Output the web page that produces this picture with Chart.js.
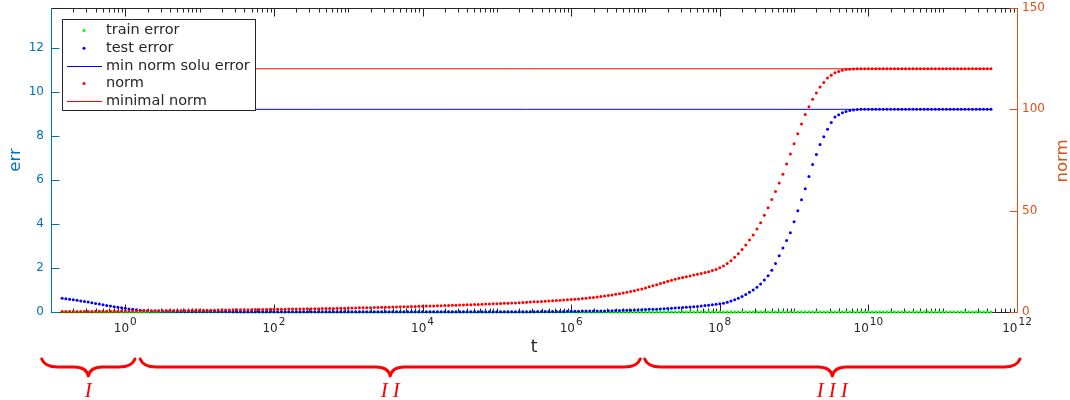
<!DOCTYPE html>
<html>
<head>
<meta charset="utf-8">
<script src="https://cdn.jsdelivr.net/npm/chart.js@4.4.1/dist/chart.umd.min.js"></script>
<style>
    body { margin: 0; background: #fff; }
</style>
</head>
<body>
<canvas id="errChart" width="1070" height="400"></canvas>
<script>
// log10(t) of each sample, one decade per row
const logT = [
    -0.85, -0.80, -0.75, -0.70, -0.65, -0.60, -0.55, -0.50, -0.45, -0.40, -0.35, -0.30, -0.25, -0.20, -0.15, -0.10, -0.05, 0.00, 0.05, 0.10,
    0.15, 0.20, 0.25, 0.30, 0.35, 0.40, 0.45, 0.50, 0.55, 0.60, 0.65, 0.70, 0.75, 0.80, 0.85, 0.90, 0.95, 1.00, 1.05, 1.10,
    1.15, 1.20, 1.25, 1.30, 1.35, 1.40, 1.45, 1.50, 1.55, 1.60, 1.65, 1.70, 1.75, 1.80, 1.85, 1.90, 1.95, 2.00, 2.05, 2.10,
    2.15, 2.20, 2.25, 2.30, 2.35, 2.40, 2.45, 2.50, 2.55, 2.60, 2.65, 2.70, 2.75, 2.80, 2.85, 2.90, 2.95, 3.00, 3.05, 3.10,
    3.15, 3.20, 3.25, 3.30, 3.35, 3.40, 3.45, 3.50, 3.55, 3.60, 3.65, 3.70, 3.75, 3.80, 3.85, 3.90, 3.95, 4.00, 4.05, 4.10,
    4.15, 4.20, 4.25, 4.30, 4.35, 4.40, 4.45, 4.50, 4.55, 4.60, 4.65, 4.70, 4.75, 4.80, 4.85, 4.90, 4.95, 5.00, 5.05, 5.10,
    5.15, 5.20, 5.25, 5.30, 5.35, 5.40, 5.45, 5.50, 5.55, 5.60, 5.65, 5.70, 5.75, 5.80, 5.85, 5.90, 5.95, 6.00, 6.05, 6.10,
    6.15, 6.20, 6.25, 6.30, 6.35, 6.40, 6.45, 6.50, 6.55, 6.60, 6.65, 6.70, 6.75, 6.80, 6.85, 6.90, 6.95, 7.00, 7.05, 7.10,
    7.15, 7.20, 7.25, 7.30, 7.35, 7.40, 7.45, 7.50, 7.55, 7.60, 7.65, 7.70, 7.75, 7.80, 7.85, 7.90, 7.95, 8.00, 8.05, 8.10,
    8.15, 8.20, 8.25, 8.30, 8.35, 8.40, 8.45, 8.50, 8.55, 8.60, 8.65, 8.70, 8.75, 8.80, 8.85, 8.90, 8.95, 9.00, 9.05, 9.10,
    9.15, 9.20, 9.25, 9.30, 9.35, 9.40, 9.45, 9.50, 9.55, 9.60, 9.65, 9.70, 9.75, 9.80, 9.85, 9.90, 9.95, 10.00, 10.05, 10.10,
    10.15, 10.20, 10.25, 10.30, 10.35, 10.40, 10.45, 10.50, 10.55, 10.60, 10.65, 10.70, 10.75, 10.80, 10.85, 10.90, 10.95, 11.00, 11.05, 11.10,
    11.15, 11.20, 11.25, 11.30, 11.35, 11.40, 11.45, 11.50, 11.55, 11.60, 11.65
];
const trainError = [
    0, 0, 0, 0, 0, 0, 0, 0, 0, 0, 0, 0, 0, 0, 0, 0, 0, 0, 0, 0,
    0, 0, 0, 0, 0, 0, 0, 0, 0, 0, 0, 0, 0, 0, 0, 0, 0, 0, 0, 0,
    0, 0, 0, 0, 0, 0, 0, 0, 0, 0, 0, 0, 0, 0, 0, 0, 0, 0, 0, 0,
    0, 0, 0, 0, 0, 0, 0, 0, 0, 0, 0, 0, 0, 0, 0, 0, 0, 0, 0, 0,
    0, 0, 0, 0, 0, 0, 0, 0, 0, 0, 0, 0, 0, 0, 0, 0, 0, 0, 0, 0,
    0, 0, 0, 0, 0, 0, 0, 0, 0, 0, 0, 0, 0, 0, 0, 0, 0, 0, 0, 0,
    0, 0, 0, 0, 0, 0, 0, 0, 0, 0, 0, 0, 0, 0, 0, 0, 0, 0, 0, 0,
    0, 0, 0, 0, 0, 0, 0, 0, 0, 0, 0, 0, 0, 0, 0, 0, 0, 0, 0, 0,
    0, 0, 0, 0, 0, 0, 0, 0, 0, 0, 0, 0, 0, 0, 0, 0, 0, 0, 0, 0,
    0, 0, 0, 0, 0, 0, 0, 0, 0, 0, 0, 0, 0, 0, 0, 0, 0, 0, 0, 0,
    0, 0, 0, 0, 0, 0, 0, 0, 0, 0, 0, 0, 0, 0, 0, 0, 0, 0, 0, 0,
    0, 0, 0, 0, 0, 0, 0, 0, 0, 0, 0, 0, 0, 0, 0, 0, 0, 0, 0, 0,
    0, 0, 0, 0, 0, 0, 0, 0, 0, 0, 0
];
const testError = [
    0.62, 0.60, 0.58, 0.555, 0.53, 0.505, 0.48, 0.45, 0.42, 0.39, 0.36, 0.33, 0.30, 0.27, 0.24, 0.215, 0.19, 0.165, 0.14, 0.12,
    0.10, 0.085, 0.07, 0.06, 0.05, 0.045, 0.04, 0.035, 0.03, 0.03, 0.03, 0.025, 0.02, 0.02, 0.02, 0.02, 0.02, 0.02, 0.02, 0.02,
    0.02, 0.02, 0.02, 0.02, 0.02, 0.02, 0.01, 0.01, 0.01, 0.01, 0.01, 0.01, 0.01, 0.01, 0.01, 0.01, 0.01, 0.01, 0.01, 0.01,
    0.01, 0.01, 0.01, 0.01, 0.01, 0.01, 0.01, 0.01, 0.01, 0.01, 0.01, 0.01, 0.01, 0.01, 0.01, 0.01, 0.01, 0.01, 0.01, 0.01,
    0.01, 0.01, 0.01, 0.01, 0.01, 0.01, 0.01, 0.01, 0.01, 0.01, 0.01, 0.01, 0.01, 0.01, 0.01, 0.01, 0.01, 0.01, 0.01, 0.01,
    0.01, 0.01, 0.01, 0.01, 0.01, 0.01, 0.01, 0.01, 0.01, 0.01, 0.01, 0.01, 0.01, 0.01, 0.01, 0.01, 0.01, 0.01, 0.01, 0.01,
    0.01, 0.01, 0.01, 0.01, 0.01, 0.01, 0.01, 0.015, 0.02, 0.02, 0.02, 0.02, 0.02, 0.02, 0.02, 0.025, 0.03, 0.03, 0.03, 0.035,
    0.04, 0.04, 0.04, 0.045, 0.05, 0.05, 0.05, 0.055, 0.06, 0.065, 0.07, 0.075, 0.08, 0.085, 0.09, 0.095, 0.10, 0.11, 0.12, 0.125,
    0.13, 0.14, 0.15, 0.16, 0.17, 0.18, 0.19, 0.20, 0.21, 0.225, 0.24, 0.255, 0.27, 0.29, 0.31, 0.33, 0.35, 0.37, 0.40, 0.44,
    0.50, 0.56, 0.62, 0.70, 0.80, 0.90, 1.00, 1.12, 1.27, 1.45, 1.65, 1.9, 2.2, 2.55, 2.9, 3.25, 3.6, 4.1, 4.6, 5.1,
    5.6, 6.15, 6.7, 7.15, 7.6, 7.95, 8.3, 8.6, 8.85, 8.95, 9.05, 9.1, 9.15, 9.17, 9.19, 9.2, 9.2, 9.2, 9.2, 9.2,
    9.2, 9.2, 9.2, 9.2, 9.2, 9.2, 9.2, 9.2, 9.2, 9.2, 9.2, 9.2, 9.2, 9.2, 9.2, 9.2, 9.2, 9.2, 9.2, 9.2,
    9.2, 9.2, 9.2, 9.2, 9.2, 9.2, 9.2, 9.2, 9.2, 9.2, 9.2
];
const normValues = [
    0.2, 0.2, 0.2, 0.22, 0.25, 0.27, 0.3, 0.3, 0.3, 0.32, 0.35, 0.37, 0.4, 0.4, 0.4, 0.42, 0.45, 0.47, 0.5, 0.52,
    0.55, 0.57, 0.6, 0.6, 0.6, 0.62, 0.65, 0.67, 0.7, 0.7, 0.7, 0.72, 0.75, 0.77, 0.8, 0.82, 0.85, 0.87, 0.9, 0.9,
    0.9, 0.92, 0.95, 0.97, 1.0, 1.02, 1.05, 1.07, 1.1, 1.12, 1.15, 1.17, 1.2, 1.22, 1.25, 1.27, 1.3, 1.32, 1.35, 1.37,
    1.4, 1.42, 1.45, 1.47, 1.5, 1.52, 1.55, 1.57, 1.6, 1.65, 1.7, 1.72, 1.75, 1.77, 1.8, 1.85, 1.9, 1.92, 1.95, 2.0,
    2.05, 2.07, 2.1, 2.15, 2.2, 2.25, 2.3, 2.35, 2.4, 2.45, 2.5, 2.55, 2.6, 2.65, 2.7, 2.75, 2.8, 2.85, 2.9, 2.95,
    3.0, 3.05, 3.1, 3.15, 3.2, 3.27, 3.35, 3.42, 3.5, 3.55, 3.6, 3.67, 3.75, 3.82, 3.9, 3.97, 4.05, 4.12, 4.2, 4.27,
    4.35, 4.42, 4.5, 4.6, 4.7, 4.8, 4.9, 5.0, 5.1, 5.2, 5.3, 5.4, 5.5, 5.62, 5.75, 5.87, 6.0, 6.15, 6.3, 6.45,
    6.6, 6.8, 7.0, 7.2, 7.4, 7.65, 7.9, 8.15, 8.4, 8.7, 9.0, 9.35, 9.7, 10.1, 10.5, 10.95, 11.4, 11.9, 12.4, 12.95,
    13.5, 14.05, 14.6, 15.15, 15.7, 16.15, 16.6, 17.0, 17.4, 17.8, 18.2, 18.6, 19.0, 19.45, 19.9, 20.45, 21.0, 21.8, 22.7, 23.9,
    25.3, 27.0, 28.8, 30.8, 33, 35.5, 38, 41, 44, 47.7, 51.5, 55.5, 59.5, 63.7, 68, 73, 78, 83, 88, 92.8,
    97.5, 101.3, 105, 108, 111, 113.3, 115.5, 116.8, 118, 118.7, 119.3, 119.6, 119.8, 119.9, 120, 120, 120, 120, 120, 120,
    120, 120, 120, 120, 120, 120, 120, 120, 120, 120, 120, 120, 120, 120, 120, 120, 120, 120, 120, 120,
    120, 120, 120, 120, 120, 120, 120, 120, 120, 120, 120
];
const minNormSoluError = 9.2;
const minimalNorm = 120;

const errTicks = [0, 2, 4, 6, 8, 10, 12];
const normTicks = [0, 50, 100, 150];
const tLabelPowers = [0, 2, 4, 6, 8, 10, 12];
// phase braces under the axis: label, from log10(t), to log10(t)
const phaseNames = ['I', 'II', 'III'];
const phaseFrom = [-1.125, 0.2, 6.99];
const phaseTo = [0.13, 6.93, 12.04];

const axisGray = '#262626';
const errBlue = '#0072BD';
const normOrange = '#D95319';

Chart.defaults.font.family = '"DejaVu Sans", sans-serif';

const points = (ys) => logT.map((e, i) => ({ x: Math.pow(10, e), y: ys[i] }));
const flat = (v) => [
    { x: Math.pow(10, logT[0]), y: v },
    { x: Math.pow(10, logT[logT.length - 1]), y: v }
];

// box, axis lines and inward ticks like a MATLAB axes
const framePlugin = {
    id: 'frame',
    beforeDatasetsDraw(chart) {
        const { ctx, chartArea: a, scales } = chart;
        const L = Math.floor(a.left) + 0.5, R = Math.floor(a.right) + 0.5;
        const T = Math.floor(a.top) + 0.5, B = Math.floor(a.bottom) + 0.5;
        ctx.save();
        ctx.lineWidth = 1;

        ctx.strokeStyle = axisGray;
        ctx.beginPath();
        ctx.moveTo(L, T); ctx.lineTo(R, T);
        ctx.moveTo(L, B); ctx.lineTo(R, B);
        for (let k = -1; k <= 12; k++) {
            for (let m = 1; m <= 9; m++) {
                const v = m * Math.pow(10, k);
                if (v > 1e12 || v < 0.1) continue;
                const px = Math.round(scales.x.getPixelForValue(v)) + 0.5;
                const len = (m === 1 && k % 2 === 0) ? 8 : 4;
                ctx.moveTo(px, B); ctx.lineTo(px, B - len);
                ctx.moveTo(px, T); ctx.lineTo(px, T + len);
            }
        }
        ctx.stroke();

        ctx.strokeStyle = errBlue;
        ctx.beginPath();
        ctx.moveTo(L, T - 0.5); ctx.lineTo(L, B + 0.5);
        errTicks.forEach(v => {
            const py = Math.round(scales.y.getPixelForValue(v)) + 0.5;
            ctx.moveTo(L, py); ctx.lineTo(L + 8, py);
        });
        ctx.stroke();

        ctx.strokeStyle = normOrange;
        ctx.beginPath();
        ctx.moveTo(R, T - 0.5); ctx.lineTo(R, B + 0.5);
        normTicks.forEach(v => {
            const py = Math.round(scales.y2.getPixelForValue(v)) + 0.5;
            ctx.moveTo(R, py); ctx.lineTo(R - 8, py);
        });
        ctx.stroke();
        ctx.restore();
    },
    afterDraw(chart) {
        const { ctx, chartArea: a, scales } = chart;
        ctx.save();

        // 10^k tick labels
        ctx.fillStyle = axisGray;
        ctx.textBaseline = 'alphabetic';
        ctx.textAlign = 'left';
        tLabelPowers.forEach(p => {
            const cx = scales.x.getPixelForValue(Math.pow(10, p));
            ctx.font = '12px "DejaVu Sans"';
            const wb = ctx.measureText('10').width;
            ctx.font = '10.5px "DejaVu Sans"';
            const we = ctx.measureText(String(p)).width;
            const x0 = cx - (wb + we + 1) / 2;
            ctx.font = '12px "DejaVu Sans"';
            ctx.fillText('10', x0, 332);
            ctx.font = '10.5px "DejaVu Sans"';
            ctx.fillText(String(p), x0 + wb + 1, 325);
        });

        // right axis title, read bottom to top
        ctx.fillStyle = normOrange;
        ctx.font = '16.5px "DejaVu Sans"';
        ctx.textAlign = 'center';
        ctx.textBaseline = 'middle';
        ctx.translate(1063, 161);
        ctx.rotate(-Math.PI / 2);
        ctx.fillText('norm', 0, 0);
        ctx.setTransform(1, 0, 0, 1, 0, 0);

        // legend
        const lx = 62.5, ly = 19.5, lw = 193, lh = 91;
        ctx.fillStyle = '#fff';
        ctx.fillRect(lx, ly, lw, lh);
        ctx.strokeStyle = axisGray;
        ctx.lineWidth = 1;
        ctx.strokeRect(lx, ly, lw, lh);
        ctx.font = '14.5px "DejaVu Sans"';
        ctx.textAlign = 'left';
        chart.data.datasets.forEach((ds, i) => {
            const ry = 30.5 + i * 17.7;
            if (ds.showLine) {
                ctx.strokeStyle = ds.borderColor;
                ctx.beginPath();
                ctx.moveTo(67, Math.round(ry) + 0.5);
                ctx.lineTo(102, Math.round(ry) + 0.5);
                ctx.stroke();
            } else {
                ctx.fillStyle = ds.backgroundColor;
                ctx.beginPath();
                ctx.arc(84, ry, 1.5, 0, Math.PI * 2);
                ctx.fill();
            }
            ctx.fillStyle = axisGray;
            ctx.fillText(ds.label, 106, ry);
        });

        // phase braces
        ctx.strokeStyle = '#FF0000';
        ctx.fillStyle = '#FF0000';
        ctx.lineWidth = 3;
        ctx.lineCap = 'round';
        ctx.lineJoin = 'round';
        const yt = 359, yb = 367, yp = 376;
        phaseNames.forEach((name, i) => {
            const x0 = scales.x.getPixelForValue(Math.pow(10, phaseFrom[i]));
            const x1 = scales.x.getPixelForValue(Math.pow(10, phaseTo[i]));
            const xm = (x0 + x1) / 2;
            ctx.beginPath();
            ctx.moveTo(x0, yt);
            ctx.quadraticCurveTo(x0 + 3, yb, x0 + 16, yb);
            ctx.lineTo(xm - 14, yb);
            ctx.quadraticCurveTo(xm - 2, yb, xm, yp);
            ctx.quadraticCurveTo(xm + 2, yb, xm + 14, yb);
            ctx.lineTo(x1 - 16, yb);
            ctx.quadraticCurveTo(x1 - 3, yb, x1, yt);
            ctx.stroke();

            ctx.font = 'italic 21px "Liberation Serif"';
            ctx.letterSpacing = '5px';
            ctx.textAlign = 'center';
            ctx.textBaseline = 'middle';
            ctx.fillText(name, xm + 2.5, 391);
            ctx.letterSpacing = '0px';
        });
        ctx.restore();
    }
};

const dotStyle = (color) => ({
    backgroundColor: color,
    borderColor: color,
    pointRadius: 1.5,
    pointBorderWidth: 0,
    pointHoverRadius: 1.5,
    showLine: false,
    clip: false
});

const noEdgePadding = (scale) => {
    scale.paddingTop = 0;
    scale.paddingBottom = 0;
    scale.paddingLeft = 0;
    scale.paddingRight = 0;
};

const ctx = document.getElementById('errChart').getContext('2d');
const errChart = new Chart(ctx, {
    type: 'scatter',
    data: {
        datasets: [
            Object.assign({ label: 'train error', data: points(trainError), yAxisID: 'y', order: 5 }, dotStyle('#00FF00')),
            Object.assign({ label: 'test error', data: points(testError), yAxisID: 'y', order: 4 }, dotStyle('#0000FF')),
            {
                label: 'min norm solu error', data: flat(minNormSoluError), yAxisID: 'y', order: 3,
                showLine: true, borderColor: '#0000FF', backgroundColor: '#0000FF',
                borderWidth: 1, pointRadius: 0
            },
            Object.assign({ label: 'norm', data: points(normValues), yAxisID: 'y2', order: 2 }, dotStyle('#FF0000')),
            {
                label: 'minimal norm', data: flat(minimalNorm), yAxisID: 'y2', order: 1,
                showLine: true, borderColor: '#FF0000', backgroundColor: '#FF0000',
                borderWidth: 1, pointRadius: 0
            }
        ]
    },
    options: {
        responsive: false,
        animation: false,
        devicePixelRatio: 1,
        layout: { padding: { top: 8, left: 0, right: 0, bottom: 0 } },
        plugins: {
            legend: { display: false },
            tooltip: { enabled: false }
        },
        scales: {
            x: {
                type: 'logarithmic',
                min: 0.1,
                max: 1e12,
                grid: { display: false, drawTicks: false },
                border: { display: false },
                ticks: { display: false },
                title: {
                    display: true,
                    text: 't',
                    color: axisGray,
                    font: { size: 17 },
                    padding: { top: 0, bottom: 42 }
                },
                afterFit(scale) { scale.height = 88; noEdgePadding(scale); }
            },
            y: {
                type: 'linear',
                position: 'left',
                min: 0,
                max: 13.8,
                afterBuildTicks(scale) { scale.ticks = errTicks.map(v => ({ value: v })); },
                grid: { display: false, drawTicks: false },
                border: { display: false },
                ticks: { color: errBlue, font: { size: 12 }, padding: 7 },
                title: {
                    display: true,
                    text: 'err',
                    color: errBlue,
                    font: { size: 16.5 },
                    padding: { top: 6, bottom: 0 }
                },
                afterFit(scale) { scale.width = 51; noEdgePadding(scale); }
            },
            y2: {
                type: 'linear',
                position: 'right',
                min: 0,
                max: 150,
                afterBuildTicks(scale) { scale.ticks = normTicks.map(v => ({ value: v })); },
                grid: { display: false, drawTicks: false },
                border: { display: false },
                ticks: { color: normOrange, font: { size: 12 }, padding: 5 },
                afterFit(scale) { scale.width = 53; noEdgePadding(scale); }
            }
        }
    },
    plugins: [framePlugin]
});
</script>
</body>
</html>
